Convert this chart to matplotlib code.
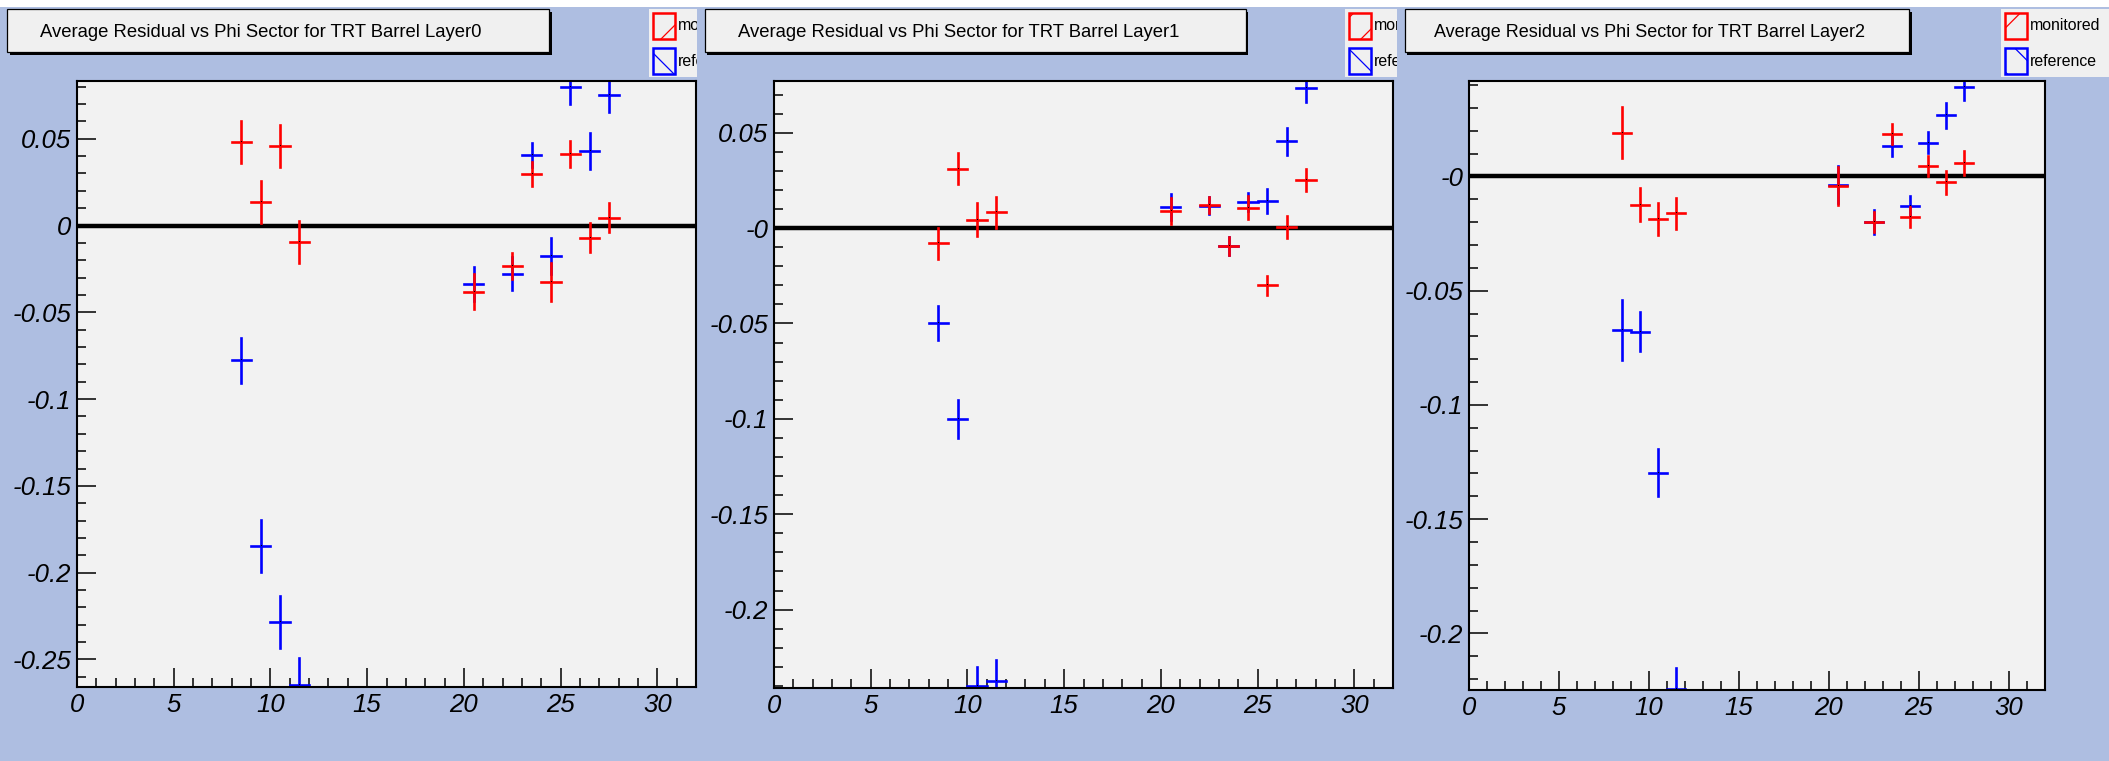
import numpy as np
import matplotlib
matplotlib.use('Agg')
import matplotlib.pyplot as plt
from matplotlib.patches import Rectangle
from matplotlib.ticker import MultipleLocator, FuncFormatter
from matplotlib.transforms import Bbox, TransformedBbox

plt.rcParams['font.family'] = ['Liberation Sans', 'DejaVu Sans']
plt.rcParams['hatch.linewidth'] = 0.9

# phi sectors that have entries (bin index, drawn at bin centre)
sectors = [8, 9, 10, 11, 20, 22, 23, 24, 25, 26, 27]

layer_titles = ['Average Residual vs Phi Sector for TRT Barrel Layer0',
                'Average Residual vs Phi Sector for TRT Barrel Layer1',
                'Average Residual vs Phi Sector for TRT Barrel Layer2']

# monitored run
mon_l0 = [0.048, 0.0137, 0.046, -0.0095, -0.038, -0.0235, 0.0296, -0.0326, 0.041, -0.007, 0.0046]
mon_l0_err = [0.012, 0.012, 0.012, 0.012, 0.010, 0.0075, 0.007, 0.011, 0.0075, 0.0085, 0.0085]
mon_l1 = [-0.0079, 0.0311, 0.0044, 0.0082, 0.0089, 0.0121, -0.0094, 0.0107, -0.0299, 0.0004, 0.0252]
mon_l1_err = [0.0082, 0.008, 0.0086, 0.0083, 0.007, 0.0044, 0.0048, 0.006, 0.005, 0.0057, 0.0057]
mon_l2 = [0.0192, -0.0123, -0.0188, -0.0162, -0.004, -0.0198, 0.0186, -0.0177, 0.0047, -0.0026, 0.0058]
mon_l2_err = [0.0112, 0.0074, 0.007, 0.0067, 0.0083, 0.0044, 0.0043, 0.0045, 0.0044, 0.005, 0.0053]

# reference run
ref_l0 = [-0.0776, -0.1845, -0.2287, -0.265, -0.0336, -0.0277, 0.0405, -0.0177, 0.080, 0.043, 0.0752]
ref_l0_err = [0.013, 0.015, 0.015, 0.016, 0.010, 0.0095, 0.007, 0.0105, 0.010, 0.0105, 0.010]
ref_l1 = [-0.0498, -0.100, -0.2402, -0.2376, 0.011, 0.0118, -0.0094, 0.0138, 0.0143, 0.0455, 0.0736]
ref_l1_err = [0.009, 0.0099, 0.0102, 0.011, 0.007, 0.0046, 0.0045, 0.0047, 0.0063, 0.007, 0.0075]
ref_l2 = [-0.0672, -0.0679, -0.1296, -0.2244, -0.0036, -0.020, 0.0135, -0.0128, 0.0148, 0.0267, 0.0393]
ref_l2_err = [0.013, 0.0085, 0.0101, 0.0093, 0.008, 0.0053, 0.0044, 0.0044, 0.0047, 0.0055, 0.006]

y_ranges = [(-0.2659, 0.0833), (-0.2411, 0.0771), (-0.2248, 0.0418)]
zero_labels = ['0', '-0', '-0']
legend_labels = ['monitored', 'reference']

W, H = 2109, 761
BG = '#AEBEE1'

# pixel layout of each pad: frame box, title box, title font, legend corner, pad clip edge
frames = [(77, 81, 696, 687), (774, 81, 1393, 688), (1469, 81, 2045, 690)]
title_boxes = [(7, 9, 549, 52), (704.5, 9, 1245.5, 52), (1404.5, 9, 1909, 52)]
title_x = [40, 738.5, 1434]
title_size = [13.3, 13.3, 13.0]
legend_x = [649, 1345, 2001]
pad_right = [697, 1397, 2109]


def fig_rect(x0, y0, x1, y1):
  # pixel box (top-left origin) -> figure fraction rect
  return [x0 / W, 1 - y1 / H, (x1 - x0) / W, (y1 - y0) / H]


def draw_title(fig, i):
  x0, y0, x1, y1 = title_boxes[i]
  r = fig_rect(x0, y0, x1, y1)
  sh = 2.5
  fig.add_artist(Rectangle((r[0] + sh / W, r[1] - sh / H), r[2], r[3],
                           transform=fig.transFigure, facecolor='black', edgecolor='none'))
  fig.add_artist(Rectangle((r[0], r[1]), r[2], r[3], transform=fig.transFigure,
                           facecolor='#F0F0F0', edgecolor='black', linewidth=0.9))
  fig.text(title_x[i] / W, 1 - (y0 + y1) / 2 / H, layer_titles[i],
           fontsize=title_size[i], ha='left', va='center_baseline', color='black')


def draw_legend(fig, i):
  lx = legend_x[i]
  clip = TransformedBbox(Bbox.from_extents(0, 0, pad_right[i] / W, 1), fig.transFigure)
  bg = Rectangle(fig_rect(lx, 9, lx + 112, 77)[:2], 112 / W, 68 / H, transform=fig.transFigure,
                 facecolor='#F0F0F0', edgecolor='none')
  bg.set_clip_box(clip)
  fig.add_artist(bg)
  for k, (col, hatch) in enumerate([('red', '/'), ('blue', '\\')]):
    top = 13 + 35 * k
    r = fig_rect(lx + 4, top, lx + 26, top + 26)
    box = Rectangle((r[0], r[1]), r[2], r[3], transform=fig.transFigure,
                    facecolor='none', edgecolor=col, hatch=hatch, linewidth=1.8)
    box.set_clip_box(clip)
    fig.add_artist(box)
    t = fig.text((lx + 29) / W, 1 - (top + 13) / H, legend_labels[k], fontsize=11.4,
                 ha='left', va='center', color='black')
    t.set_clip_box(clip)


def draw_panel(fig, i, mon, mon_err, ref, ref_err):
  ax = fig.add_axes(fig_rect(*frames[i]))
  ax.set_facecolor('#F2F2F2')
  x = np.array(sectors) + 0.5

  ax.axhline(0, color='black', lw=3.2, zorder=1)
  for vals, errs, col, z in [(ref, ref_err, 'blue', 2), (mon, mon_err, 'red', 3)]:
    eb = ax.errorbar(x, vals, xerr=0.5, yerr=errs, fmt='none', ecolor=col,
                     elinewidth=1.9, capsize=0, zorder=z)
    for lc in eb[2]:
      lc.set_capstyle('projecting')
    ax.plot(x, vals, ',', color='black', zorder=z + 0.1)

  ax.set_xlim(0, 32)
  ax.set_ylim(*y_ranges[i])
  ax.xaxis.set_major_locator(MultipleLocator(5))
  ax.xaxis.set_minor_locator(MultipleLocator(1))
  ax.yaxis.set_major_locator(MultipleLocator(0.05))
  ax.yaxis.set_minor_locator(MultipleLocator(0.01))
  zl = zero_labels[i]
  ax.yaxis.set_major_formatter(FuncFormatter(lambda v, p: zl if abs(v) < 1e-9 else '%g' % v))
  ax.xaxis.set_major_formatter(FuncFormatter(lambda v, p: '%g' % v))
  ax.tick_params(which='both', direction='in', top=False, right=False, width=1.1,
                 labelsize=18.5)
  ax.tick_params(which='major', length=13.5, pad=4)
  ax.tick_params(which='minor', length=6.5)
  for lab in ax.get_xticklabels() + ax.get_yticklabels():
    lab.set_fontstyle('italic')
  for s in ax.spines.values():
    s.set_linewidth(1.5)
  return ax


fig = plt.figure(figsize=(W / 100, H / 100), dpi=100, facecolor=BG)
fig.add_artist(Rectangle((0, 1 - 7 / H), 1, 7 / H, transform=fig.transFigure,
                         facecolor='white', edgecolor='none'))

series = [(mon_l0, mon_l0_err, ref_l0, ref_l0_err),
          (mon_l1, mon_l1_err, ref_l1, ref_l1_err),
          (mon_l2, mon_l2_err, ref_l2, ref_l2_err)]
for i, (m, me, r, re) in enumerate(series):
  draw_panel(fig, i, m, me, r, re)
  draw_legend(fig, i)
for i in range(3):
  draw_title(fig, i)

fig.savefig('out.png', dpi=100, facecolor=BG)
